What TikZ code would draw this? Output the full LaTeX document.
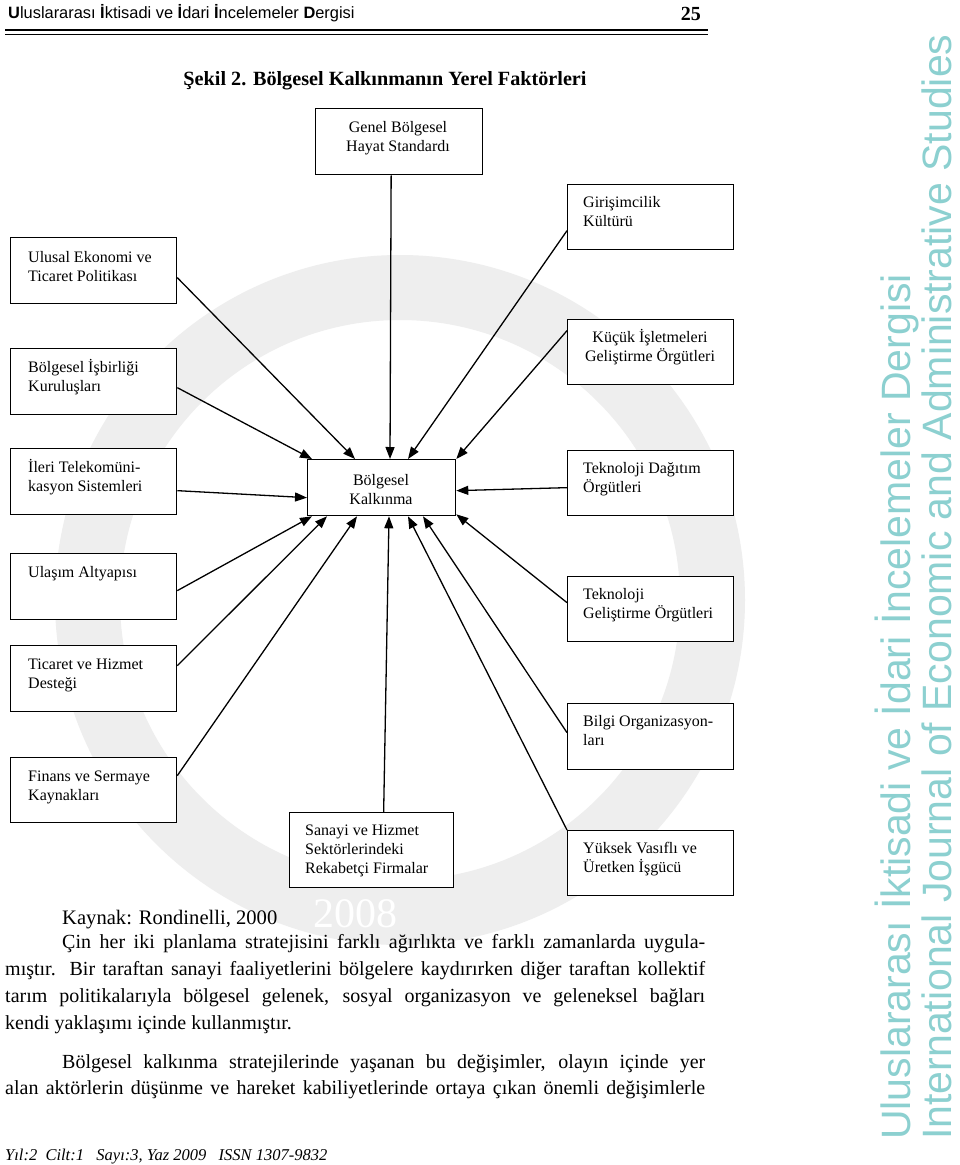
\documentclass[tikz,border=0pt]{standalone}
\usepackage{fontspec}
\setmainfont{Liberation Serif}
\newfontfamily\hdrsans{Liberation Sans}
\usetikzlibrary{arrows.meta}
\definecolor{side}{RGB}{140,208,208}
\definecolor{wmband}{RGB}{238,238,238}
\begin{document}
\begin{tikzpicture}[x=1pt,y=-1pt,
  box/.style={draw=black, fill=white, line width=1.3pt, anchor=north west, inner sep=0pt},
  lbl/.style={anchor=base west, align=left, inner sep=0pt, font=\fontsize{16}{19}\selectfont},
  clbl/.style={anchor=base, align=center, inner sep=0pt, font=\fontsize{16}{19}\selectfont},
  arr/.style={line width=1.3pt, -{Triangle[length=12pt,width=9pt]}},
  para/.style={anchor=base west, inner sep=0pt, font=\fontsize{20}{24}\selectfont},
]
\useasboundingbox (0,0) rectangle (960,1165);
\fill[white] (0,0) rectangle (960,1165);

% faint background emblem
\fill[wmband, even odd rule] (400,600) circle[radius=345pt] (400,600) circle[radius=280pt];
\node[anchor=base, inner sep=0pt, font=\fontsize{42}{48}\selectfont, text=white] (wm2008) at (355,927) {2008};

% header
\node[anchor=base west, inner sep=0pt, font=\hdrsans\fontsize{16.4}{19}\selectfont] (hdr) at (8,18)
  {\textbf{U}luslararası \textbf{İ}ktisadi ve \textbf{İ}dari \textbf{İ}ncelemeler \textbf{D}ergisi};
\node[anchor=base east, inner sep=0pt, font=\bfseries\fontsize{20}{24}\selectfont] (pg) at (701,20) {25};
\draw[line width=2pt] (5,30) -- (708,30);
\draw[line width=0.8pt] (5,34) -- (708,34);

% title
\node[anchor=base, inner sep=0pt, font=\bfseries\fontsize{20.2}{24}\selectfont] (title) at (385,85)
  {Şekil 2. Bölgesel Kalkınmanın Yerel Faktörleri};

% boxes
\node[box, minimum width=167pt, minimum height=66pt] (genel) at (315,108) {};
\node[clbl] (genelT) at (398,151.5) {Genel Bölgesel\\Hayat Standardı};

\node[box, minimum width=148pt, minimum height=56pt] (cb) at (307,459) {};
\node[clbl] (cbT) at (381,504) {Bölgesel\\Kalkınma};

\node[box, minimum width=166pt, minimum height=66pt] (ulusal) at (10,237) {};
\node[lbl] (ulusalT) at (28,281) {Ulusal Ekonomi ve\\Ticaret Politikası};
\node[box, minimum width=166pt, minimum height=66pt] (isb) at (10,348) {};
\node[lbl] (isbT) at (28,391) {Bölgesel İşbirliği\\Kuruluşları};
\node[box, minimum width=166pt, minimum height=66pt] (tele) at (10,448) {};
\node[lbl] (teleT) at (28,491) {İleri Telekomüni-\\kasyon Sistemleri};
\node[box, minimum width=166pt, minimum height=66pt] (ulasim) at (10,553) {};
\node[lbl] (ulasimT) at (28,577) {Ulaşım Altyapısı};
\node[box, minimum width=166pt, minimum height=66pt] (ticaret) at (10,645) {};
\node[lbl] (ticaretT) at (28,688) {Ticaret ve Hizmet\\Desteği};
\node[box, minimum width=166pt, minimum height=65pt] (finans) at (10,757) {};
\node[lbl] (finansT) at (28,800) {Finans ve Sermaye\\Kaynakları};

\node[box, minimum width=166pt, minimum height=65pt] (girisim) at (567,184) {};
\node[lbl] (girisimT) at (583,226) {Girişimcilik\\Kültürü};
\node[box, minimum width=166pt, minimum height=65pt] (kucuk) at (567,319) {};
\node[clbl] (kucukT) at (650,361) {Küçük İşletmeleri\\Geliştirme Örgütleri};
\node[box, minimum width=166pt, minimum height=65pt] (tdag) at (567,450) {};
\node[lbl] (tdagT) at (583,492) {Teknoloji Dağıtım\\Örgütleri};
\node[box, minimum width=166pt, minimum height=65pt] (tgel) at (567,576) {};
\node[lbl] (tgelT) at (583,618) {Teknoloji\\Geliştirme Örgütleri};
\node[box, minimum width=166pt, minimum height=66pt] (bilgi) at (567,703) {};
\node[lbl] (bilgiT) at (583,745) {Bilgi Organizasyon-\\ları};
\node[box, minimum width=166pt, minimum height=65pt] (yuksek) at (567,830) {};
\node[lbl] (yuksekT) at (583,872) {Yüksek Vasıflı ve\\Üretken İşgücü};

\node[box, minimum width=164pt, minimum height=75pt] (sanayi) at (289,812) {};
\node[lbl] (sanayiT) at (305,873) {Sanayi ve Hizmet\\Sektörlerindeki\\Rekabetçi Firmalar};

% arrows
\draw[arr] ([yshift=-7pt]ulusal.east) -- ([xshift=48pt]cb.north west);
\draw[arr] ([yshift=-6pt]isb.east) -- ([xshift=5pt]cb.north west);
\draw[arr] ([yshift=-9pt]tele.east) -- ([yshift=-10pt]cb.west);
\draw[arr] ([yshift=-4pt]ulasim.east) -- ([xshift=5pt]cb.south west);
\draw[arr] ([yshift=13pt]ticaret.east) -- ([xshift=20pt]cb.south west);
\draw[arr] ([yshift=14.5pt]finans.east) -- ([xshift=50pt]cb.south west);
\draw[arr] ([xshift=-8pt]genel.south) -- ([xshift=83pt]cb.north west);
\draw[arr] ([yshift=-13.5pt]girisim.west) -- ([xshift=101pt]cb.north west);
\draw[arr] ([yshift=21.5pt]kucuk.west) -- (cb.north east);
\draw[arr] ([yshift=-4.5pt]tdag.west) -- ([yshift=-3pt]cb.east);
\draw[arr] ([yshift=6.5pt]tgel.west) -- ([yshift=2pt]cb.south east);
\draw[arr] ([yshift=4pt]bilgi.west) -- ([xshift=116pt]cb.south west);
\draw[arr] (yuksek.north west) -- ([xshift=101pt]cb.south west);
\draw[arr] ([xshift=12pt]sanayi.north) -- ([xshift=82pt]cb.south west);

% text below
\node[para, font=\fontsize{20.6}{24}\selectfont] (kaynak) at (62,924) {Kaynak: Rondinelli, 2000};
\node[para] (p1) at (62,948) {\makebox[643pt][s]{Çin her iki planlama stratejisini farklı ağırlıkta ve farklı zamanlarda uygula-}};
\node[para] (p2) at (5,975) {\makebox[700pt][s]{mıştır. Bir taraftan sanayi faaliyetlerini bölgelere kaydırırken diğer taraftan kollektif}};
\node[para] (p3) at (5,1002) {\makebox[700pt][s]{tarım politikalarıyla bölgesel gelenek, sosyal organizasyon ve geleneksel bağları}};
\node[para] (p4) at (5,1029) {kendi yaklaşımı içinde kullanmıştır.};
\node[para] (p5) at (62,1068) {\makebox[643pt][s]{Bölgesel kalkınma stratejilerinde yaşanan bu değişimler, olayın içinde yer}};
\node[para] (p6) at (5,1094) {\makebox[700pt][s]{alan aktörlerin düşünme ve hareket kabiliyetlerinde ortaya çıkan önemli değişimlerle}};

% footer
\node[anchor=base west, inner sep=0pt, font=\itshape\fontsize{16.5}{19}\selectfont] (foot) at (5,1160)
  {Yıl:2\ \ Cilt:1\ \ \ Sayı:3, Yaz 2009\ \ \ ISSN 1307-9832};

% side
\node[rotate=90, anchor=base west, inner sep=0pt, text=side, font=\hdrsans\fontsize{41}{49}\selectfont] (side1) at (910,1140)
  {Uluslararası İktisadi ve İdari İncelemeler Dergisi};
\node[rotate=90, anchor=base west, inner sep=0pt, text=side, font=\hdrsans\fontsize{41}{49}\selectfont] (side2) at (951,1140)
  {International Journal of Economic and Administrative Studies};
\end{tikzpicture}
\end{document}
